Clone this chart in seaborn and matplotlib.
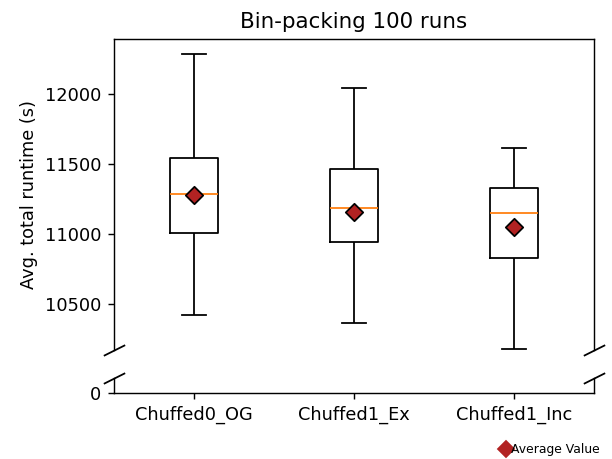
import numpy as np
import pandas as pd
import matplotlib
matplotlib.use("Agg")
import matplotlib.pyplot as plt
from matplotlib.lines import Line2D
import seaborn as sns

categories = ["Chuffed0_OG", "Chuffed1_Ex", "Chuffed1_Inc"]
mins = [10424, 10369, 10180]
q1s = [11012, 10945, 10833]
medians = [11288, 11186, 11150]
q3s = [11548, 11464, 11333]
maxs = [12288, 12048, 11614]
means = [11281, 11159, 11055]

rows = []
for c, a, b, m, d, e in zip(categories, mins, q1s, medians, q3s, maxs):
    for v in (a, b, m, d, e):
        rows.append({"solver": c, "runtime": v})
df = pd.DataFrame(rows)
mean_df = pd.DataFrame({"solver": categories, "runtime": means})

dpi = 128
fig = plt.figure(figsize=(612 / dpi, 459 / dpi), dpi=dpi)
ax1 = fig.add_axes([0.186, 0.2375, 0.785, 0.915 - 0.2375])
ax2 = fig.add_axes([0.186, 0.1438, 0.785, 0.1765 - 0.1438], sharex=ax1)

for ax in (ax1, ax2):
    sns.boxplot(data=df, x="solver", y="runtime", ax=ax, whis=(0, 100),
                width=0.3, color="black", fill=False, linewidth=1.0,
                medianprops={"color": "#ff7f0e", "linewidth": 1.0},
                showfliers=False)
    sns.scatterplot(data=mean_df, x="solver", y="runtime", ax=ax, marker="D",
                    color="#b22222", edgecolor="black", linewidth=1.0, s=48,
                    zorder=5, legend=False)
    ax.set_xlabel("")
    ax.set_ylabel("")

ax1.set_ylim(10175, 12395)
ax1.set_yticks([10500, 11000, 11500, 12000])
ax2.set_ylim(0, 100)
ax2.set_yticks([0])
ax1.set_xlim(-0.5, 2.5)

ax1.spines["bottom"].set_visible(False)
ax2.spines["top"].set_visible(False)
ax1.tick_params(axis="x", bottom=False, labelbottom=False, top=False)
ax2.tick_params(axis="x", bottom=True, labelbottom=True)

ax1.set_ylabel("Avg. total runtime (s)")
ax1.set_title("Bin-packing 100 runs", fontsize=12)

d = 0.5
kw = dict(marker=[(-1, -d), (1, d)], markersize=12, linestyle="none",
          color="k", mec="k", mew=1, clip_on=False)
ax1.plot([0, 1], [0, 0], transform=ax1.transAxes, **kw)
ax2.plot([0, 1], [1, 1], transform=ax2.transAxes, **kw)

handle = Line2D([], [], marker="D", color="#b22222", linestyle="none",
                markersize=6)
fig.legend(handles=[handle], labels=["Average Value"], loc="lower right",
           bbox_to_anchor=(0.994, -0.013), frameon=False, fontsize="x-small",
           handlelength=0.8, handletextpad=0.0, borderpad=0.2)

fig.savefig("out.png", dpi=dpi)
